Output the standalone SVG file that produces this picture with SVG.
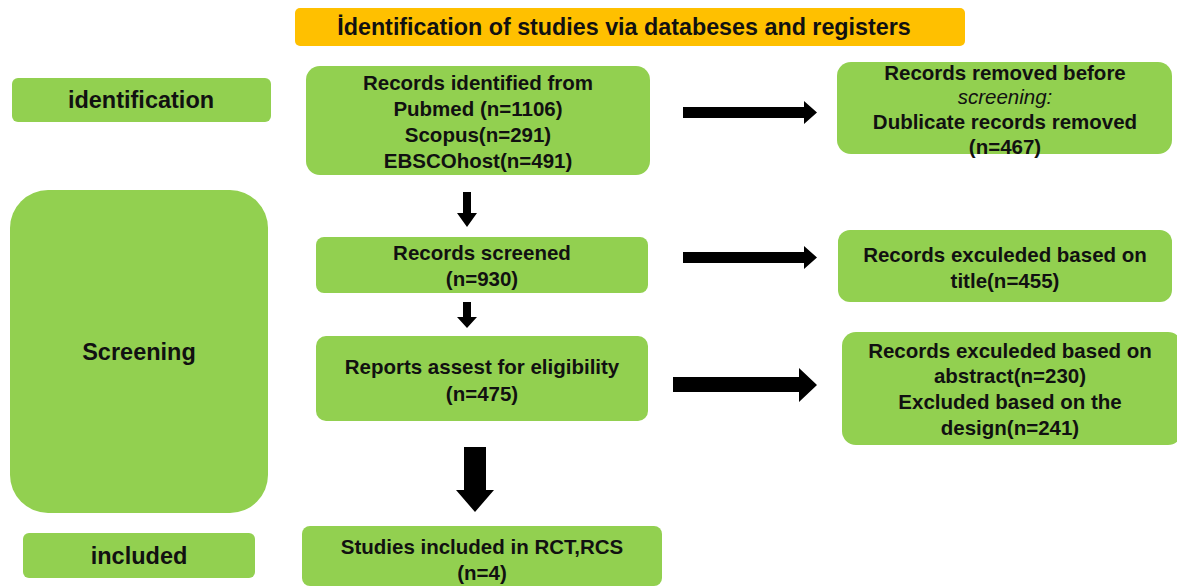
<svg xmlns="http://www.w3.org/2000/svg" width="1177" height="588" viewBox="0 0 1177 588">
<style>
.box{fill:#92D050;}
.t{font-family:"Liberation Sans",Arial,sans-serif;font-weight:bold;font-size:20.5px;fill:#111;text-anchor:middle;dominant-baseline:central;}
.lab{font-size:23.5px;}
.it{font-style:italic;font-weight:normal;}
.arr{fill:#000;}
</style>
<rect width="1177" height="588" fill="#fff"/>
<g id="title">
<rect x="295" y="8" width="670" height="38" rx="5" fill="#FFC000"/>
<text class="t" x="624" y="27" style="font-size:23.3px">İdentification of studies via databeses and registers</text>
</g>
<g id="lab-identification">
<rect class="box" x="12" y="78" width="259" height="44" rx="6"/>
<text class="t lab" x="141" y="100">identification</text>
</g>
<g id="lab-screening">
<rect class="box" x="10" y="190" width="258" height="323" rx="38"/>
<text class="t lab" x="139" y="352">Screening</text>
</g>
<g id="lab-included">
<rect class="box" x="23" y="533" width="232" height="45" rx="6"/>
<text class="t lab" x="139" y="556">included</text>
</g>
<g id="n-identified">
<rect class="box" x="306" y="66" width="344" height="109" rx="14"/>
<text class="t" x="478" y="82">Records identified from</text>
<text class="t" x="478" y="108">Pubmed (n=1106)</text>
<text class="t" x="478" y="134">Scopus(n=291)</text>
<text class="t" x="478" y="160">EBSCOhost(n=491)</text>
</g>
<g id="n-screened">
<rect class="box" x="316" y="237" width="332" height="56" rx="8"/>
<text class="t" x="482" y="252">Records screened</text>
<text class="t" x="482" y="278">(n=930)</text>
</g>
<g id="n-eligibility">
<rect class="box" x="316" y="336" width="332" height="85" rx="10"/>
<text class="t" x="482" y="366">Reports assest for eligibility</text>
<text class="t" x="482" y="393">(n=475)</text>
</g>
<g id="n-included">
<rect class="box" x="302" y="526" width="360" height="60" rx="8"/>
<text class="t" x="482" y="546">Studies included in RCT,RCS</text>
<text class="t" x="482" y="572">(n=4)</text>
</g>
<g id="n-removed">
<rect class="box" x="837" y="62" width="335" height="92" rx="14"/>
<text class="t" x="1005" y="72">Records removed before</text>
<text class="t it" x="1005" y="96">screening:</text>
<text class="t" x="1005" y="121">Dublicate records removed</text>
<text class="t" x="1005" y="146">(n=467)</text>
</g>
<g id="n-excl-title">
<rect class="box" x="838" y="230" width="334" height="72" rx="12"/>
<text class="t" x="1005" y="254">Records exculeded based on</text>
<text class="t" x="1005" y="280">title(n=455)</text>
</g>
<g id="n-excl-abstract">
<rect class="box" x="842" y="332" width="340" height="113" rx="14"/>
<text class="t" x="1010" y="350">Records exculeded based on</text>
<text class="t" x="1010" y="375">abstract(n=230)</text>
<text class="t" x="1010" y="401">Excluded based on the</text>
<text class="t" x="1010" y="427">design(n=241)</text>
</g>
<g id="connectors">
<polygon class="arr" points="683,107 804,107 804,101 817,112.5 804,124 804,118 683,118"/>
<polygon class="arr" points="683,252 804,252 804,246 817,257.5 804,269 804,263 683,263"/>
<polygon class="arr" points="673,377 799,377 799,368 817,385 799,402 799,392 673,392"/>
<polygon class="arr" points="463,192 471,192 471,213 477,213 467,227 457,213 463,213"/>
<polygon class="arr" points="463,302 471,302 471,317 477,317 467,328 457,317 463,317"/>
<polygon class="arr" points="464,447 486,447 486,490 494,490 475,512 456,490 464,490"/>
</g>
</svg>
